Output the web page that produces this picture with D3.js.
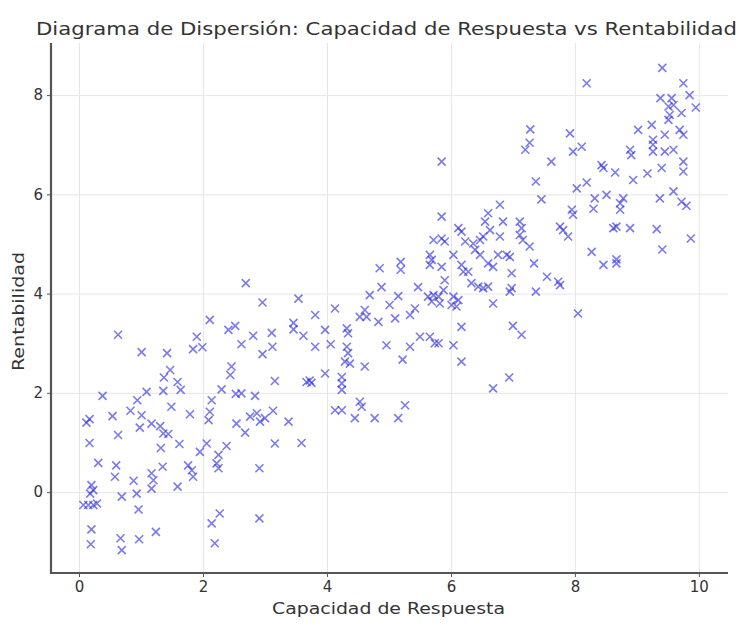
<!DOCTYPE html>
<html>
<head>
<meta charset="utf-8">
<script src="https://cdn.jsdelivr.net/npm/d3@7"></script>
<style>
  body { margin: 0; background: #fff; }
  text { font-family: "DejaVu Sans", sans-serif; fill: #333; }
</style>
</head>
<body>
<div id="container"></div>
<script>
// values
const capacidad = [
  0.63, 1.01, 1.42, 1.90, 1.84, 1.99, 2.11, 1.47, 1.37, 1.59, 1.64, 0.38, 1.09, 0.94, 1.36, 1.49, 1.79, 2.14, 2.11, 2.09,
  0.17, 0.12, 0.54, 0.83, 1.01, 0.98, 1.17, 1.31, 1.36, 1.44, 0.63, 1.62, 1.32, 0.17, 2.06, 1.95,
  0.31, 0.60, 0.58, 0.88, 1.35, 1.17, 1.20, 1.17, 1.76, 1.82, 1.84, 1.59,
  0.20, 0.23, 0.18, 0.07, 0.15, 0.23, 0.29, 0.69, 0.93, 0.96, 0.20, 0.19, 0.67, 0.69, 0.97, 1.24, 2.14, 2.19,
  2.69, 2.96, 3.54, 3.81, 2.41, 2.52, 2.62, 2.81, 3.11, 3.12, 2.96, 3.46, 3.46, 3.62, 3.81, 2.46, 2.44, 3.16,
  3.67, 3.72, 3.75, 2.30, 2.53, 2.62, 2.84, 2.54, 2.68, 2.76, 2.87, 2.92, 3.00, 3.13, 3.38, 3.16, 3.59, 2.38,
  2.25, 2.22, 2.25, 2.91, 2.27, 2.91,
  5.85, 6.12, 6.17, 5.72, 5.85, 5.90, 5.66, 5.69, 5.66, 5.85, 6.04, 6.17, 6.20, 4.85, 5.19, 5.19, 5.90, 4.88,
  5.47, 4.69, 5.15, 5.01, 5.63, 5.72, 5.80, 5.69, 5.82, 5.88, 6.04, 6.12, 6.09, 6.01,
  4.13, 4.61, 4.53, 4.64, 4.83, 5.10, 5.34, 5.42,
  3.97, 4.06, 4.32, 4.34, 4.32, 4.34, 4.29, 4.37, 4.61, 4.96, 5.34, 5.50, 5.66, 5.74, 5.80, 6.04, 6.17, 6.17, 5.22,
  3.97, 4.24, 4.24, 4.24, 4.13, 4.24, 4.53, 4.56, 4.45, 4.77, 5.26, 5.15,
  7.28, 7.27, 7.20, 7.62, 7.97, 8.11, 7.37, 7.46, 8.03, 8.19,
  6.79, 6.60, 6.55, 6.63, 6.52, 6.84, 6.79, 7.11, 7.14, 7.11, 7.16, 7.27,
  7.95, 7.97, 7.76, 7.81, 7.89, 8.27, 6.90, 6.95, 6.76,
  6.23, 6.36, 6.47, 6.39, 6.47, 6.60, 6.68, 6.28, 6.33, 6.44, 6.52, 6.60, 6.68,
  6.98, 6.98, 6.95, 7.34, 7.37, 7.55, 7.73, 7.76, 8.05, 7.00, 7.14, 6.94, 6.68,
  5.85,
  9.41, 8.19, 9.75, 9.85, 9.95, 9.38, 9.56, 9.59, 9.51, 9.53, 9.51, 9.72,
  9.02, 9.24, 9.45, 9.26, 9.69, 9.75, 7.92,
  8.89, 8.91, 9.26, 9.26, 9.45, 9.59, 9.75, 9.75, 8.43, 8.46, 8.65, 9.17, 8.94, 9.40,
  8.32, 8.51, 8.78, 8.73, 9.37, 9.59, 9.72,
  8.30, 8.73, 9.80, 8.62, 8.67, 8.89, 9.32, 9.87, 9.41, 8.46, 8.67, 8.67
];
const rentabilidad = [
  3.17, 2.82, 2.80, 3.13, 2.88, 2.92, 3.47, 2.46, 2.31, 2.22, 2.06, 1.94, 2.02, 1.85, 2.04, 1.72, 1.57, 1.85, 1.62, 1.45,
  1.47, 1.40, 1.53, 1.64, 1.55, 1.30, 1.38, 1.33, 1.18, 1.17, 1.15, 0.97, 0.89, 0.99, 0.98, 0.81,
  0.59, 0.54, 0.31, 0.23, 0.51, 0.38, 0.24, 0.07, 0.54, 0.44, 0.31, 0.11,
  0.14, 0.04, -0.03, -0.26, -0.26, -0.26, -0.23, -0.09, -0.03, -0.35, -0.75, -1.05, -0.93, -1.17, -0.95, -0.80, -0.63, -1.03,
  4.21, 3.82, 3.90, 3.57, 3.27, 3.35, 2.98, 3.15, 3.21, 2.93, 2.78, 3.41, 3.28, 3.15, 2.93, 2.53, 2.36, 2.24,
  2.22, 2.25, 2.20, 2.07, 1.98, 1.99, 1.94, 1.38, 1.20, 1.52, 1.59, 1.42, 1.49, 1.64, 1.42, 0.98, 0.99, 0.93,
  0.75, 0.58, 0.48, 0.48, -0.43, -0.53,
  5.55, 5.32, 5.25, 5.08, 5.11, 5.05, 4.78, 4.68, 4.58, 4.54, 4.78, 4.58, 4.44, 4.51, 4.64, 4.48, 4.27, 4.13,
  4.13, 3.97, 3.95, 3.77, 3.94, 3.97, 3.94, 3.84, 3.80, 4.07, 3.94, 3.87, 3.74, 3.77,
  3.70, 3.67, 3.53, 3.53, 3.43, 3.50, 3.57, 3.70,
  3.27, 2.98, 3.30, 3.20, 2.93, 2.80, 2.63, 2.59, 2.53, 2.96, 2.93, 3.13, 3.13, 3.00, 3.00, 2.96, 3.33, 2.63, 2.67,
  2.39, 2.32, 2.19, 2.06, 1.65, 1.65, 1.82, 1.72, 1.49, 1.49, 1.75, 1.49,
  7.31, 7.04, 6.90, 6.66, 6.86, 6.96, 6.26, 5.90, 6.12, 6.24,
  5.79, 5.62, 5.45, 5.28, 5.15, 5.45, 5.15, 5.45, 5.32, 5.18, 5.08, 4.95,
  5.69, 5.59, 5.35, 5.28, 5.15, 4.84, 4.78, 4.74, 4.78,
  5.05, 5.01, 5.08, 4.88, 4.78, 4.61, 4.54, 4.44, 4.21, 4.14, 4.11, 4.14, 3.80,
  4.41, 4.11, 4.04, 4.61, 4.04, 4.34, 4.24, 4.17, 3.60, 3.35, 3.17, 2.31, 2.09,
  6.66,
  8.55, 8.24, 8.24, 8.00, 7.75, 7.94, 7.94, 7.80, 7.77, 7.60, 7.50, 7.64,
  7.30, 7.40, 7.20, 7.10, 7.30, 7.20, 7.23,
  6.90, 6.79, 7.00, 6.86, 6.86, 6.90, 6.66, 6.46, 6.59, 6.53, 6.44, 6.42, 6.29, 6.53,
  5.92, 5.99, 5.92, 5.82, 5.92, 6.06, 5.85,
  5.71, 5.69, 5.77, 5.32, 5.35, 5.32, 5.30, 5.11, 4.89, 4.58, 4.69, 4.61
];
const xTicks = [0, 2, 4, 6, 8, 10];
const yTicks = [0, 2, 4, 6, 8];
const titulo = "Diagrama de Dispersión: Capacidad de Respuesta vs Rentabilidad";
const xEtiqueta = "Capacidad de Respuesta";
const yEtiqueta = "Rentabilidad";

const width = 740;
const height = 624;
const margin = { top: 43, right: 12, bottom: 51, left: 51 };
const plotW = width - margin.left - margin.right;
const plotH = height - margin.top - margin.bottom;

const points = capacidad.map((c, i) => ({ x: c, y: rentabilidad[i] }));

const x = d3.scaleLinear().domain([-0.452, 10.47]).range([0, plotW]);
const y = d3.scaleLinear().domain([-1.63, 9.05]).range([plotH, 0]);

const svg = d3.create("svg")
    .attr("width", width)
    .attr("height", height);

const g = svg.append("g")
    .attr("transform", `translate(${margin.left},${margin.top})`);

// grid
g.append("g")
    .attr("transform", `translate(0,${plotH})`)
    .call(d3.axisBottom(x).tickValues(xTicks).tickSize(-plotH).tickFormat(""))
    .call(a => a.select(".domain").remove())
    .call(a => a.selectAll("line").attr("stroke", "#e6e6e6").attr("stroke-width", 1));

g.append("g")
    .call(d3.axisLeft(y).tickValues(yTicks).tickSize(-plotW).tickFormat(""))
    .call(a => a.select(".domain").remove())
    .call(a => a.selectAll("line").attr("stroke", "#e6e6e6").attr("stroke-width", 1));

// points as x markers
const s = 4;
g.append("g")
    .attr("stroke", "rgb(40,40,225)")
    .attr("stroke-opacity", 0.62)
    .attr("stroke-width", 1.6)
    .attr("fill", "none")
    .selectAll("path")
    .data(points)
    .join("path")
    .attr("d", d => {
        const cx = x(d.x), cy = y(d.y);
        return `M${cx - s},${cy - s}L${cx + s},${cy + s}M${cx - s},${cy + s}L${cx + s},${cy - s}`;
    });

// axes
const xAxis = g.append("g")
    .attr("transform", `translate(0,${plotH})`)
    .call(d3.axisBottom(x).tickValues(xTicks).tickSize(4).tickPadding(4).tickFormat(d3.format("d")));
const yAxis = g.append("g")
    .call(d3.axisLeft(y).tickValues(yTicks).tickSize(4).tickPadding(4).tickFormat(d3.format("d")));

[xAxis, yAxis].forEach(a => {
    a.select(".domain").remove();
    a.selectAll("line").attr("stroke", "#555").attr("stroke-width", 1);
    a.selectAll("text").attr("font-size", 15).style("fill", "#333");
});

// spines (left and bottom only)
g.append("line")
    .attr("x1", 0).attr("x2", 0).attr("y1", 0).attr("y2", plotH + 1)
    .attr("stroke", "#555").attr("stroke-width", 2.2);
g.append("line")
    .attr("x1", -1).attr("x2", plotW).attr("y1", plotH).attr("y2", plotH)
    .attr("stroke", "#555").attr("stroke-width", 2.2);

// title and labels
svg.append("text")
    .attr("x", 36)
    .attr("y", 35)
    .attr("font-size", 17)
    .attr("textLength", 701)
    .attr("lengthAdjust", "spacingAndGlyphs")
    .text(titulo);

svg.append("text")
    .attr("x", 272)
    .attr("y", 614)
    .attr("font-size", 16)
    .attr("textLength", 233)
    .attr("lengthAdjust", "spacingAndGlyphs")
    .text(xEtiqueta);

svg.append("text")
    .attr("transform", "translate(24,371) rotate(-90)")
    .attr("font-size", 16)
    .attr("textLength", 119)
    .attr("lengthAdjust", "spacingAndGlyphs")
    .text(yEtiqueta);

document.getElementById("container").appendChild(svg.node());
</script>
</body>
</html>
